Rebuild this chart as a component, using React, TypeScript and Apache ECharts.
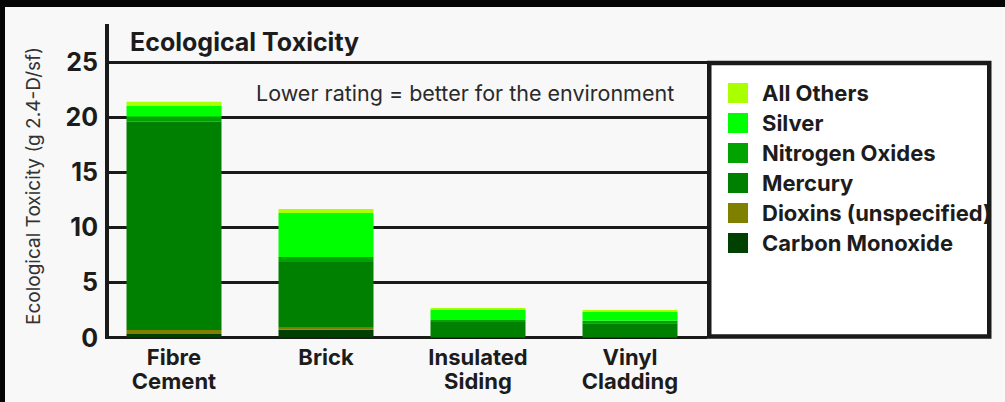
import React, { useEffect, useRef } from "react";
import * as echarts from "echarts";

const categories = ["Fibre\nCement", "Brick", "Insulated\nSiding", "Vinyl\nCladding"];
const carbonMonoxide = [0.32, 0.71, 0.01, 0.01];
const dioxins = [0.36, 0.18, 0.01, 0.01];
const mercury = [18.9, 5.96, 1.39, 1.27];
const nitrogenOxides = [0.46, 0.45, 0.18, 0.23];
const silver = [0.96, 4.0, 0.91, 0.79];
const allOthers = [0.4, 0.36, 0.18, 0.19];
const yMin = 0;
const yMax = 25;
const yStep = 5;

const seriesDefs = [
  { name: "Carbon Monoxide", data: carbonMonoxide, color: "#004000" },
  { name: "Dioxins (unspecified)", data: dioxins, color: "#808000" },
  { name: "Mercury", data: mercury, color: "#008000" },
  { name: "Nitrogen Oxides", data: nitrogenOxides, color: "#00a300" },
  { name: "Silver", data: silver, color: "#00ff00" },
  { name: "All Others", data: allOthers, color: "#aaff00" },
];
const legendOrder = ["All Others", "Silver", "Nitrogen Oxides", "Mercury", "Dioxins (unspecified)", "Carbon Monoxide"];

const FONT = "Inter, 'Noto Sans', sans-serif";
const INK = "#1c1c1c";

export default function App() {
  const ref = useRef<HTMLDivElement>(null);
  useEffect(() => {
    if (!ref.current) return;
    const chart = echarts.init(ref.current, null, { renderer: "svg" });
    const gridTop = 62;
    const gridH = 275.5;
    chart.setOption({
      animation: false,
      backgroundColor: "#f8f8f8",
      textStyle: { fontFamily: FONT },
      grid: [
        { left: 98, width: 608, top: gridTop, height: gridH },
        { left: 108, width: 599, top: gridTop, height: gridH },
      ],
      xAxis: [
        {
          type: "category",
          gridIndex: 0,
          data: categories,
          axisLine: { show: false },
          axisTick: { show: false },
          axisLabel: {
            color: INK,
            fontFamily: FONT,
            fontWeight: "bold",
            fontSize: 22,
            lineHeight: 24,
            margin: 7,
          },
        },
        { type: "value", gridIndex: 1, show: false },
      ],
      yAxis: [
        { type: "value", gridIndex: 0, min: yMin, max: yMax, interval: yStep, show: false },
        {
          type: "value",
          gridIndex: 1,
          min: yMin,
          max: yMax,
          interval: yStep,
          axisLine: { show: false },
          axisTick: { show: false },
          splitLine: { show: true, lineStyle: { color: "#1a1a1a", width: 3 } },
          axisLabel: {
            color: INK,
            fontFamily: FONT,
            fontWeight: "bold",
            fontSize: 25,
            margin: 10,
          },
        },
      ],
      legend: {
        orient: "vertical",
        left: 728,
        top: 82,
        padding: 0,
        itemWidth: 20,
        itemHeight: 20,
        itemGap: 8,
        icon: "rect",
        z: 10,
        data: legendOrder,
        textStyle: {
          color: INK,
          fontFamily: FONT,
          fontWeight: "bold",
          fontSize: 22,
          lineHeight: 20,
          padding: [0, 0, 0, 9],
        },
      },
      series: seriesDefs.map((s) => ({
        name: s.name,
        type: "bar",
        stack: "total",
        xAxisIndex: 0,
        yAxisIndex: 0,
        barWidth: 95,
        data: s.data,
        itemStyle: { color: s.color },
        emphasis: { disabled: true },
      })),
      graphic: [
        { type: "rect", z: 0, shape: { x: 0, y: 0, width: 1005, height: 7 }, style: { fill: "#050505" } },
        { type: "rect", z: 0, shape: { x: 0, y: 0, width: 5, height: 402 }, style: { fill: "#050505" } },
        {
          type: "rect",
          z: 5,
          shape: { x: 709.25, y: 63, width: 280, height: 273.5 },
          style: { fill: "#ffffff", stroke: "#1a1a1a", lineWidth: 4.5 },
        },
        {
          type: "line",
          z: 5,
          shape: { x1: 107, y1: 24, x2: 107, y2: 339 },
          style: { stroke: "#1a1a1a", lineWidth: 4 },
        },
        {
          type: "text",
          z: 5,
          x: 130,
          y: 42,
          style: {
            text: "Ecological Toxicity",
            fill: INK,
            font: `bold 25px ${FONT}`,
            verticalAlign: "middle",
            align: "left",
          },
        },
        {
          type: "text",
          z: 5,
          x: 256,
          y: 93,
          style: {
            text: "Lower rating = better for the environment",
            fill: "#2a2a2a",
            font: `21.5px ${FONT}`,
            verticalAlign: "middle",
            align: "left",
          },
        },
        {
          type: "text",
          z: 5,
          x: 33,
          y: 186,
          rotation: Math.PI / 2,
          style: {
            text: "Ecological Toxicity (g 2.4-D/sf)",
            fill: "#333333",
            font: `19px ${FONT}`,
            verticalAlign: "middle",
            align: "center",
          },
        },
      ],
    });
    return () => chart.dispose();
  }, []);
  return (
    <div
      ref={ref}
      style={{ position: "fixed", left: 0, top: 0, width: 1005, height: 402 }}
    />
  );
}
